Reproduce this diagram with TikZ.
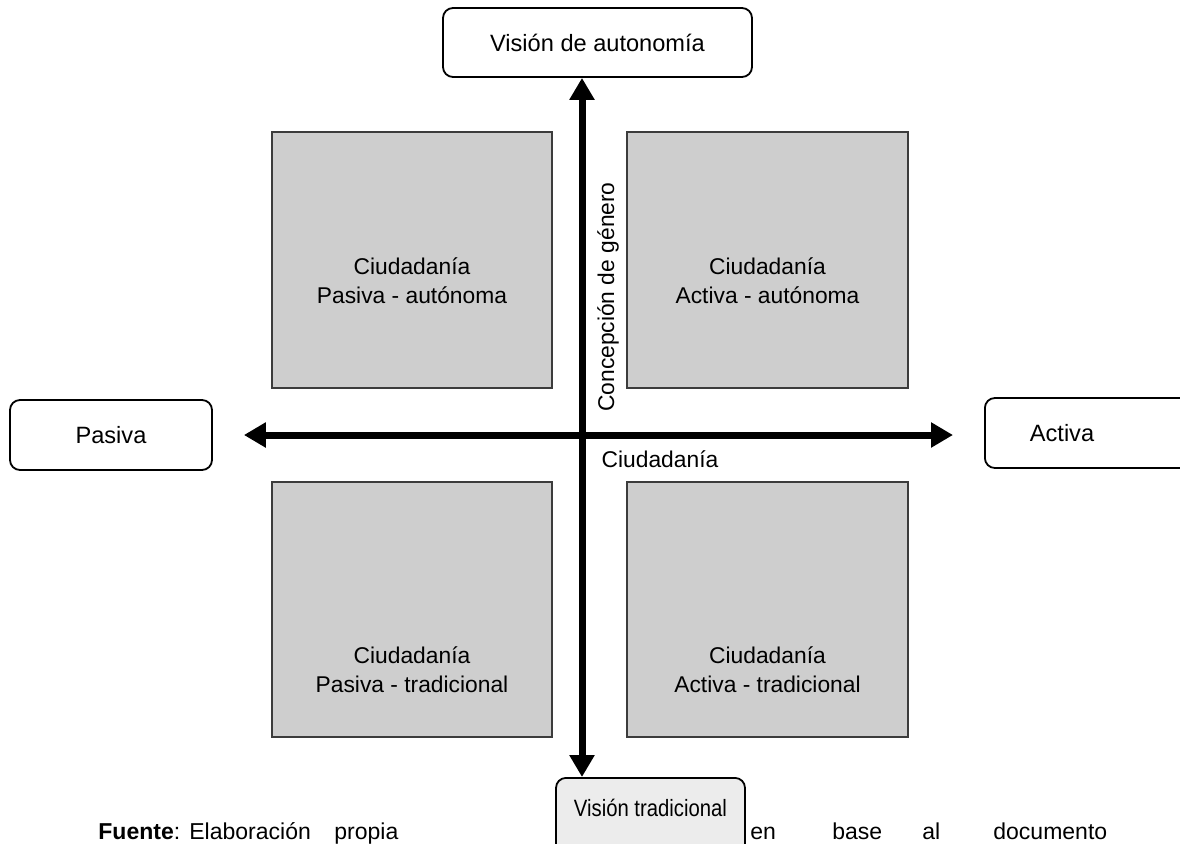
\documentclass[tikz,border=0pt]{standalone}
\usepackage{fontspec}
\usepackage{graphicx}
\setmainfont{Liberation Sans}
\usetikzlibrary{arrows.meta}
\definecolor{quadfill}{RGB}{206,206,206}
\definecolor{quadline}{RGB}{60,60,60}
\definecolor{botfill}{RGB}{236,236,236}
\begin{document}
\begin{tikzpicture}[x=0.5pt,y=-0.5pt,
  lbox/.style={draw=black, line width=0.9pt, rounded corners=5pt, fill=white, inner sep=0pt,
    font=\fontsize{11.8}{14}\selectfont},
  quad/.style={draw=quadline, line width=1pt, fill=quadfill, inner sep=0pt},
  qtext/.style={align=center, inner sep=0pt, font=\fontsize{11.4}{14.6}\selectfont},
  foot/.style={anchor=base west, inner sep=0pt, font=\fontsize{11.5}{14}\selectfont},
  axis/.style={line width=3.5pt, {Triangle[length=11pt,width=12pt]}-{Triangle[length=11pt,width=12pt]}}
]
\clip (0,0) rectangle (1180,843);
\fill[white] (0,0) rectangle (1180,843);

% quadrant boxes
\node[quad, minimum width=140pt, minimum height=128pt] (q1) at (412,260) {};
\node[quad, minimum width=140.5pt, minimum height=128pt] (q2) at (767.5,260) {};
\node[quad, minimum width=140pt, minimum height=127.5pt] (q3) at (412,609.5) {};
\node[quad, minimum width=140.5pt, minimum height=127.5pt] (q4) at (767.5,609.5) {};
\node[qtext] (t1) at (412,281) {Ciudadanía\\Pasiva - autónoma};
\node[qtext] (t2) at (767.5,281) {Ciudadanía\\Activa - autónoma};
\node[qtext] (t3) at (412,670) {Ciudadanía\\Pasiva - tradicional};
\node[qtext] (t4) at (767.5,670) {Ciudadanía\\Activa - tradicional};

% end boxes
\node[lbox, minimum width=154.5pt, minimum height=34.5pt] (top) at (597.5,42.5) {Visión de autonomía};
\node[lbox, minimum width=101pt, minimum height=35pt] (pasiva) at (111,435) {Pasiva};
\node[lbox, anchor=west, minimum height=35pt] (activa) at (984,433)
  {\makebox[118pt][l]{\hspace{22.5pt}Activa}};
\node[lbox, fill=botfill, anchor=north, minimum width=94.5pt, minimum height=45pt] (bot) at (650.5,777) {};
\node[lbox, draw=none, fill=none] (bottxt) at (650.5,808) {\scalebox{0.86}[1]{Visión tradicional}};

% axes
\coordinate (o) at (582,435);
\draw[axis] (o |- top.south) -- (o |- bot.north);
\draw[axis, shorten <=15.5pt, shorten >=15.5pt] (pasiva.east) -- (pasiva.east -| activa.west);

% axis labels
\node[qtext] (hlab) at (660,459) {Ciudadanía};
\node[qtext, rotate=90] (vlab) at (608,297) {Concepción de género};

% footnote line
\node[foot] (f1) at (98,839) {\textbf{Fuente}:};
\node[foot] (f2) at (189,839) {Elaboración};
\node[foot] (f3) at (334,839) {propia};
\node[foot] (f4) at (750,839) {en};
\node[foot] (f5) at (832,839) {base};
\node[foot] (f6) at (922,839) {al};
\node[foot] (f7) at (993,839) {documento};
\end{tikzpicture}
\end{document}
